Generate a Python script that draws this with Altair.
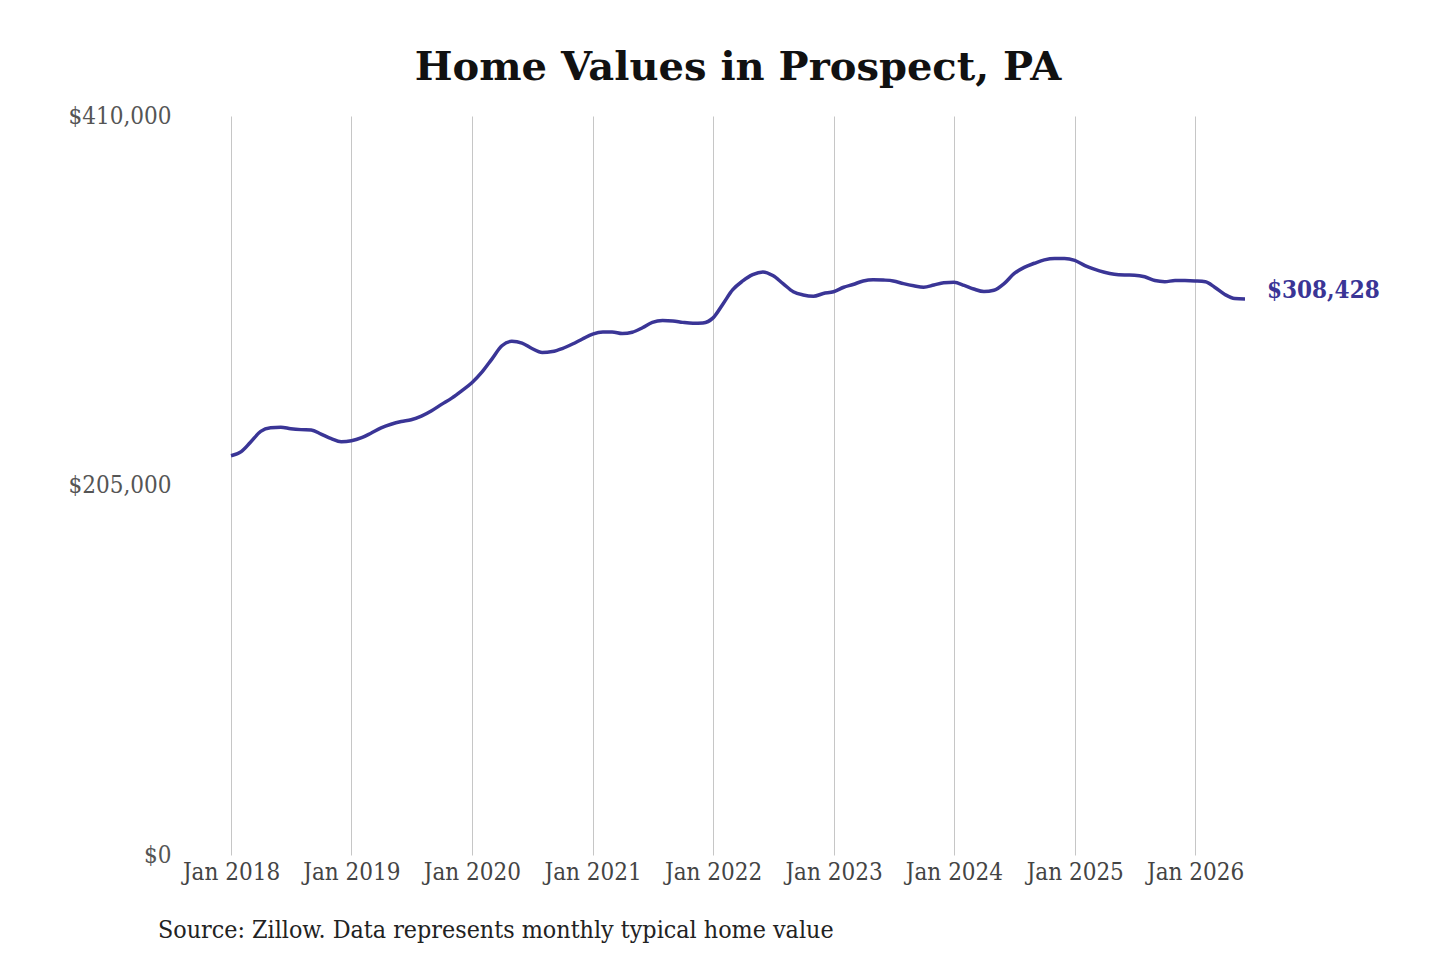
import altair as alt
import pandas as pd

start_month = "2018-01-01"
values = [
    221500, 223800, 229000, 235000, 237000, 237300, 236500, 236000, 235800, 233500, 231000, 229300,
    229800, 231500, 234000, 237000, 239000, 240500, 241500, 243500, 246500, 250000, 253500, 257500,
    262000, 268000, 275000, 282500, 285000, 284000, 281000, 278800, 279300, 281000, 283500, 286300,
    289000, 290200, 290200, 289300, 290000, 292500, 295500, 296500, 296300, 295500, 295000, 295200,
    298000, 306000, 313500, 318500, 322000, 323500, 321500, 317000, 312500, 310700, 310000, 311500,
    312500, 315000, 316500, 318500, 319200, 319000, 318500, 317000, 315800, 315000, 316200, 317500,
    317700, 316000, 314000, 312600, 313300, 317000, 322500, 326000, 328300, 330200, 331000, 331000,
    329900, 327000, 325000, 323300, 322200, 321800, 321700, 320800, 318700, 318100, 318700, 318700,
    318500, 318000, 315000, 311000, 308700, 308428,
]
tick_years = [2018, 2019, 2020, 2021, 2022, 2023, 2024, 2025, 2026]
y_ticks = [0, 205000, 410000]
title_text = "Home Values in Prospect, PA"
source_text = "Source: Zillow. Data represents monthly typical home value"

dates = pd.date_range(start_month, periods=len(values), freq="MS").strftime("%Y-%m-%d")
df = pd.DataFrame({"date": dates, "value": values})
last = df.tail(1)

LINE = "#3a3596"
FONT = "DejaVu Serif Condensed, DejaVu Serif, serif"
TITLE_FONT = "DejaVu Serif, serif"

x_enc = alt.X(
    "date:T",
    scale=alt.Scale(
        type="utc",
        domain=[alt.DateTime(year=2018, month=1, date=1, utc=True),
                alt.DateTime(year=2026, month=6, date=1, utc=True)],
    ),
    axis=alt.Axis(
        values=[alt.DateTime(year=y, month=1, date=1, utc=True) for y in tick_years],
        labelExpr="utcFormat(datum.value, '%b %Y')", title=None, domain=False, ticks=False,
        grid=True, gridColor="#c6c6c6", gridWidth=1, labelFontSize=24, labelFont=FONT,
        labelColor="#444", labelPadding=5, labelFlush=False, labelOverlap=False,
    ),
)
y_enc = alt.Y(
    "value:Q",
    scale=alt.Scale(domain=[0, 410000], nice=False),
    axis=alt.Axis(
        values=y_ticks, format="$,.0f", title=None, grid=False, domain=False, ticks=False,
        labelFontSize=24, labelFont=FONT, labelColor="#555", labelPadding=60,
        labelFlush=False, labelOverlap=False,
    ),
)

line = alt.Chart(df).mark_line(color=LINE, strokeWidth=3.5, interpolate="monotone").encode(x=x_enc, y=y_enc)

end_text = alt.Chart(last).mark_text(
    align="left", baseline="middle", dx=22, dy=-8, fontSize=24, fontWeight="bold", font=FONT, color=LINE
).encode(x=x_enc, y=y_enc, text=alt.Text("value:Q", format="$,.0f"))

source = alt.Chart(pd.DataFrame({"t": [source_text]})).mark_text(
    align="left", baseline="middle", fontSize=24.8, font=FONT, color="#222"
).encode(text="t:N", x=alt.value(-73), y=alt.value(815))

chart = alt.layer(line, end_text, source).properties(
    width=1014,
    height=739,
    title=alt.TitleParams(title_text, font=TITLE_FONT, fontSize=40, fontWeight="bold", color="#111",
                          anchor="middle", offset=16),
    padding={"left": 60, "top": 40, "right": 5, "bottom": 5},
).configure_view(stroke=None)

chart.save("out.html", embed_options={"renderer": "svg", "actions": False})
